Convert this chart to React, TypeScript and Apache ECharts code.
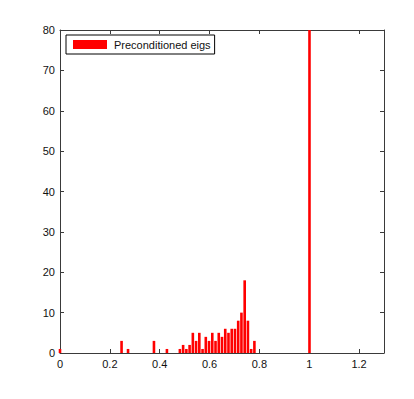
import React, { useEffect, useRef } from "react";
import * as echarts from "echarts";

const binCenters = [
  0, 0.247, 0.273, 0.377, 0.429, 0.481, 0.494, 0.507, 0.52, 0.533, 0.546,
  0.559, 0.572, 0.585, 0.598, 0.611, 0.624, 0.637, 0.65, 0.663, 0.676, 0.689,
  0.702, 0.715, 0.728, 0.741, 0.754, 0.767, 0.78, 1.001,
];
const binCounts = [
  1, 3, 1, 3, 1, 1, 2, 1, 2, 5, 3, 5, 1, 4, 3, 5, 3, 5, 4, 6, 5, 6, 6, 8, 10,
  18, 8, 1, 3, 400,
];
const seriesName = "Preconditioned eigs";
const xTicks = { min: 0, max: 1.3, interval: 0.2 };
const yTicks = { min: 0, max: 80, interval: 10 };

const FONT = "'Liberation Sans', Arial, Helvetica, sans-serif";
const AXIS_COLOR = "#3a3a3a";
const TEXT_COLOR = "#111";

const mkLine = () => ({ show: true, onZero: false, lineStyle: { color: AXIS_COLOR, width: 1 } });
const mkTick = () => ({
  show: true,
  inside: true,
  length: 4,
  lineStyle: { color: AXIS_COLOR, width: 1 },
});

export default function App() {
  const ref = useRef<HTMLDivElement>(null);
  useEffect(() => {
    document.body.style.margin = "0";
    const chart = echarts.init(ref.current!, null, { renderer: "svg" });
    chart.setOption({
      animation: false,
      backgroundColor: "#fff",
      grid: { left: 60, right: 30, top: 30, bottom: 46 },
      legend: {
        show: true,
        data: [{ name: seriesName, icon: "rect" }],
        left: 66,
        top: 35,
        padding: [4, 4, 4, 7],
        itemWidth: 34,
        itemHeight: 9,
        backgroundColor: "#fff",
        borderColor: "#000",
        borderWidth: 1,
        borderRadius: 0,
        textStyle: {
          fontFamily: FONT,
          fontSize: 11,
          color: TEXT_COLOR,
          lineHeight: 10,
          padding: [0, 0, 0, 2],
        },
      },
      xAxis: [
        {
          type: "value",
          position: "bottom",
          min: xTicks.min,
          max: xTicks.max,
          interval: xTicks.interval,
          axisLine: mkLine(),
          axisTick: mkTick(),
          splitLine: { show: false },
          axisLabel: {
            fontFamily: FONT,
            fontSize: 11,
            color: TEXT_COLOR,
            margin: 5,
            formatter: (v: number) => (v > 1.25 ? "" : String(+v.toFixed(1))),
          },
        },
        {
          type: "value",
          position: "top",
          min: xTicks.min,
          max: xTicks.max,
          interval: xTicks.interval,
          axisLine: mkLine(),
          axisTick: mkTick(),
          splitLine: { show: false },
          axisLabel: { show: false },
        },
      ],
      yAxis: [
        {
          type: "value",
          position: "left",
          min: yTicks.min,
          max: yTicks.max,
          interval: yTicks.interval,
          axisLine: mkLine(),
          axisTick: mkTick(),
          splitLine: { show: false },
          axisLabel: {
            fontFamily: FONT,
            fontSize: 11,
            color: TEXT_COLOR,
            margin: 5,
          },
        },
        {
          type: "value",
          position: "right",
          min: yTicks.min,
          max: yTicks.max,
          interval: yTicks.interval,
          axisLine: mkLine(),
          axisTick: mkTick(),
          splitLine: { show: false },
          axisLabel: { show: false },
        },
      ],
      series: [
        {
          name: seriesName,
          type: "bar",
          xAxisIndex: 0,
          yAxisIndex: 0,
          barWidth: 2.6,
          clip: true,
          itemStyle: { color: "#ff0000" },
          data: binCenters.map((x, i) => [x, binCounts[i]]),
        },
      ],
    });
    return () => chart.dispose();
  }, []);
  return (
    <div
      ref={ref}
      style={{ position: "absolute", left: 0, top: 0, width: 414, height: 399 }}
    />
  );
}
